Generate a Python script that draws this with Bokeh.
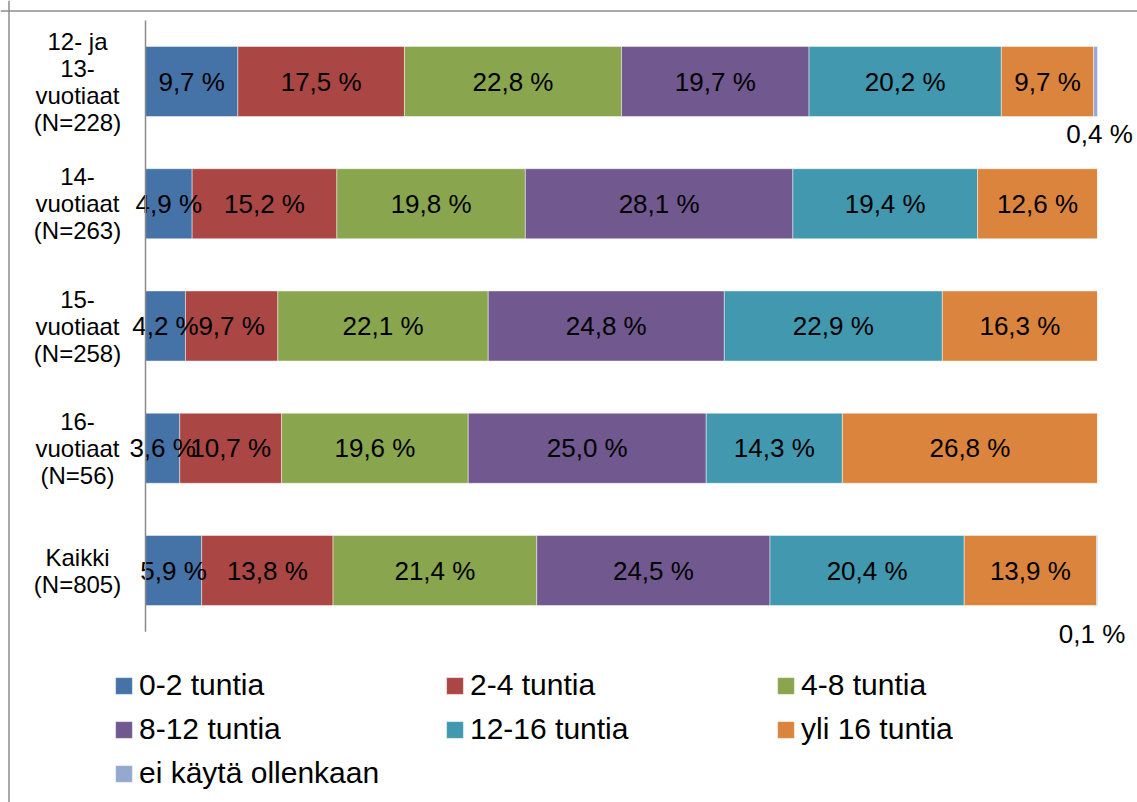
import numpy as np
from bokeh.plotting import figure
from bokeh.models import ColumnDataSource, Range1d, Span, Legend, LegendItem
from bokeh.core.properties import value
from bokeh.embed import file_html
from bokeh.resources import INLINE

# ---- data ----
categories = [
    "12- ja\n13-\nvuotiaat\n(N=228)",
    "14-\nvuotiaat\n(N=263)",
    "15-\nvuotiaat\n(N=258)",
    "16-\nvuotiaat\n(N=56)",
    "Kaikki\n(N=805)",
]
series_names = ["0-2 tuntia", "2-4 tuntia", "4-8 tuntia", "8-12 tuntia",
                "12-16 tuntia", "yli 16 tuntia", "ei käytä ollenkaan"]
v_0_2 = [9.7, 4.9, 4.2, 3.6, 5.9]
v_2_4 = [17.5, 15.2, 9.7, 10.7, 13.8]
v_4_8 = [22.8, 19.8, 22.1, 19.6, 21.4]
v_8_12 = [19.7, 28.1, 24.8, 25.0, 24.5]
v_12_16 = [20.2, 19.4, 22.9, 14.3, 20.4]
v_yli16 = [9.7, 12.6, 16.3, 26.8, 13.9]
v_ei = [0.4, 0.0, 0.0, 0.0, 0.1]
series_values = [v_0_2, v_2_4, v_4_8, v_8_12, v_12_16, v_yli16, v_ei]

# ---- styling ----
colors = ["#4572A7", "#AA4643", "#89A54E", "#71588F", "#4198AF", "#DB843D", "#93A9CF"]
FONT = "Liberation Sans"
W, H = 1137, 802
PX_X = 9.52      # px per percent
X0 = 145         # canvas px of 0 %
PX_Y = 122.25    # px per category
Y0 = 81          # canvas px of first category centre

# label offsets (px) for labels placed outside tiny segments: (category, series) -> (dx, dy)
small_label_offsets = {(0, 6): (4, 52), (4, 6): (-5, 63)}

p = figure(width=W, height=H, output_backend="svg", toolbar_location=None,
           x_axis_location=None, y_axis_location=None, min_border=0,
           x_range=Range1d(-X0 / PX_X, (W - X0) / PX_X),
           y_range=Range1d((H - Y0) / PX_Y, -Y0 / PX_Y))
p.grid.visible = False
p.outline_line_color = None
p.background_fill_color = "white"
p.border_fill_color = "white"

ys = np.arange(len(categories))
renderers = []
left = np.zeros(len(categories))
lab_x, lab_y, lab_t, lab_dx, lab_dy = [], [], [], [], []
for si, (name, vals, col) in enumerate(zip(series_names, series_values, colors)):
    vals = np.array(vals, dtype=float)
    src = ColumnDataSource(dict(y=ys, left=left.copy(), right=left + vals))
    r = p.hbar(y="y", left="left", right="right", height=0.573, source=src,
               fill_color=col, line_color="white", line_alpha=0.45, line_width=1)
    renderers.append(r)
    for ci, v in enumerate(vals):
        if v > 0:
            lab_x.append(left[ci] + v / 2)
            lab_y.append(ci)
            lab_t.append(f"{v:.1f} %".replace(".", ","))
            dx, dy = small_label_offsets.get((ci, si), (0, 0))
            lab_dx.append(dx)
            lab_dy.append(dy)
    left = left + vals

p.text(x="x", y="y", text="t", x_offset="dx", y_offset="dy",
       source=ColumnDataSource(dict(x=lab_x, y=lab_y, t=lab_t, dx=lab_dx, dy=lab_dy)),
       text_font=value(FONT), text_font_size="26px", text_color="black",
       text_align="center", text_baseline="middle")

# category axis line and labels
p.segment(x0=[0], y0=[-0.5], x1=[0], y1=[len(categories) - 0.5],
          line_color="#8a8a8a", line_width=1.5)
p.text(x=[(77 - X0) / PX_X] * len(categories), y=ys, text=categories,
       text_font=value(FONT), text_font_size="24px", text_color="black",
       text_align="center", text_baseline="middle", text_line_height=1.0)

# chart border (left and top, continuing beyond the window)
p.add_layout(Span(location=(8.5 - X0) / PX_X, dimension="height",
                  line_color="#8c8c8c", line_width=1.5))
p.add_layout(Span(location=(10.5 - Y0) / PX_Y, dimension="width",
                  line_color="#8c8c8c", line_width=1.5))

# legends (three columns)
columns = [([0, 3, 6], 113, 7), ([1, 4], 444, 51), ([2, 5], 775, 51)]
for idxs, lx, ly in columns:
    leg = Legend(items=[LegendItem(label=series_names[i], renderers=[renderers[i]]) for i in idxs],
                 location=(lx, ly), orientation="vertical",
                 glyph_width=21, glyph_height=21, label_standoff=5,
                 label_text_font=FONT, label_text_font_size="30px",
                 label_text_color="black", label_height=44, spacing=0,
                 padding=0, margin=0, border_line_color=None,
                 background_fill_alpha=0)
    p.add_layout(leg)

open("out.html", "w").write(file_html(p, INLINE))
